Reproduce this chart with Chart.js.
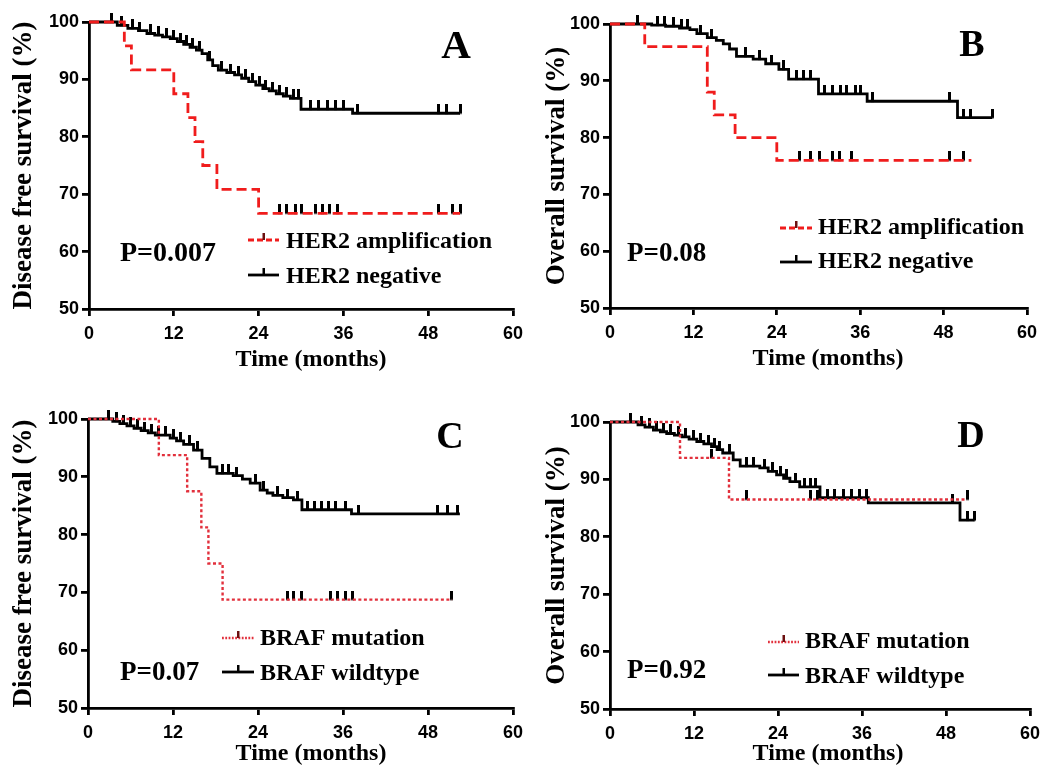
<!DOCTYPE html>
<html>
<head>
<meta charset="utf-8">
<script src="https://cdn.jsdelivr.net/npm/chart.js@4.4.0/dist/chart.umd.min.js"></script>
<style>
  body { margin: 0; background: #fff; }
  canvas { position: absolute; }
</style>
</head>
<body>
<canvas id="chartA" width="532" height="380" style="left:0;top:0"></canvas>
<canvas id="chartB" width="532" height="380" style="left:532px;top:0"></canvas>
<canvas id="chartC" width="532" height="387" style="left:0;top:380px"></canvas>
<canvas id="chartD" width="532" height="387" style="left:532px;top:380px"></canvas>
<script>
// axis ticks
const timeTicks = [0, 12, 24, 36, 48, 60];
const survTicks = [50, 60, 70, 80, 90, 100];

const her2Labels = ['HER2 amplification', 'HER2 negative'];
const brafLabels = ['BRAF mutation', 'BRAF wildtype'];
const pValues = ['P=0.007', 'P=0.08', 'P=0.07', 'P=0.92'];

// A - disease free survival by HER2
const dfsHer2AmpTime = [5, 6, 12, 14, 15, 16.1, 18.1, 24];
const dfsHer2AmpSurv = [95.83, 91.67, 87.5, 83.33, 79.17, 75, 70.83, 66.67];
const dfsHer2AmpCens = [27, 28, 29.2, 30.1, 32, 33, 34, 35.2, 49.5, 51.5, 52.5];
const dfsHer2AmpEnd = 52.5;
const dfsHer2NegTime = [4, 5.5, 7, 8.2, 9.3, 10.4, 11.5, 12.5, 13.4, 14.3, 15.2, 16, 16.8, 17.5, 18.3, 19.5, 20.6, 21.6, 22.6, 23.6, 24.6, 25.5, 26.5, 27.5, 28.5, 30, 37.3];
const dfsHer2NegSurv = [99.4, 98.9, 98.5, 98.0, 97.7, 97.4, 97.1, 96.6, 96.1, 95.6, 95.1, 94.5, 93.4, 92.4, 91.6, 91.2, 90.8, 90.2, 89.6, 89.0, 88.4, 88.0, 87.5, 87.1, 86.7, 84.8, 84.1];
const dfsHer2NegCens = [3.2, 4.6, 6.2, 7.2, 8.7, 9.8, 10.9, 12, 12.9, 13.8, 14.7, 15.6, 17.1, 18.8, 20, 21.1, 22.1, 23.1, 24.1, 25, 26, 27, 28, 29, 29.6, 31.3, 32.5, 33.7, 34.9, 36, 38, 49.4, 50.6, 52.5];
const dfsHer2NegEnd = 52.5;

// B - overall survival by HER2
const osHer2AmpTime = [5, 14, 15, 18, 24];
const osHer2AmpSurv = [96, 88, 84, 80, 76];
const osHer2AmpCens = [27.3, 28.8, 30.2, 32, 33, 34.8, 48.9, 50.8];
const osHer2AmpEnd = 52;
const osHer2NegTime = [6, 8, 10, 11.5, 12.5, 14, 15.3, 16.3, 17.2, 18.2, 20.6, 22.4, 24.3, 25.7, 30, 37, 50];
const osHer2NegSurv = [99.8, 99.6, 99.3, 99.0, 98.3, 97.6, 97.1, 96.5, 95.6, 94.3, 93.8, 93.0, 92.0, 90.3, 87.7, 86.4, 83.5];
const osHer2NegCens = [3.9, 6.8, 7.9, 9.1, 10.3, 11.2, 13, 14.6, 19.5, 21.5, 23.3, 25, 26.8, 27.8, 28.8, 30.9, 32, 33.1, 34.1, 35.3, 36, 37.8, 48.9, 50.8, 51.8, 55];
const osHer2NegEnd = 55;

// C - disease free survival by BRAF
const dfsBrafMutTime = [10, 14, 16, 17, 19];
const dfsBrafMutSurv = [93.75, 87.5, 81.25, 75, 68.75];
const dfsBrafMutCens = [28.1, 29, 30.2, 34.2, 35.2, 36.3, 37.3, 51.3];
const dfsBrafMutEnd = 51.4;
const dfsBrafWtTime = [3.5, 4.5, 5.5, 6.5, 7.5, 8.5, 9.5, 11.6, 12.5, 13.5, 14.9, 16.1, 17.2, 18.2, 20.5, 21.8, 22.9, 24.3, 25.3, 26.1, 27.5, 29, 30.2, 37.2];
const dfsBrafWtSurv = [99.6, 99.2, 98.8, 98.4, 98.0, 97.6, 97.2, 96.7, 96.2, 95.6, 94.6, 93.2, 91.7, 90.6, 90.2, 89.6, 88.9, 87.7, 87.2, 86.8, 86.4, 86.0, 84.3, 83.6];
const dfsBrafWtCens = [2.9, 4, 5, 6, 7, 8, 9, 10, 11, 12, 13, 14.3, 15.5, 19, 19.8, 21, 23.6, 24.8, 26.8, 28.2, 29.6, 31, 32, 33, 34, 35, 36.3, 38.2, 49.4, 50.8, 52.1];
const dfsBrafWtEnd = 52.5;

// D - overall survival by BRAF
const osBrafMutTime = [10, 17];
const osBrafMutSurv = [93.75, 86.5];
const osBrafMutCens = [14.5, 19.5, 28.6, 29.7, 51];
const osBrafMutEnd = 51;
const osBrafWtTime = [4, 5, 6.2, 7.2, 8.1, 9.2, 10.3, 11.3, 12.4, 13.4, 14.5, 15.3, 16.1, 17.6, 18.6, 21.4, 22.6, 23.8, 24.8, 25.7, 27.1, 30, 36.9, 50];
const osBrafWtSurv = [99.5, 99.1, 98.6, 98.3, 98.0, 97.7, 97.4, 97.0, 96.6, 96.2, 95.7, 95.2, 94.6, 93.4, 92.3, 92.0, 91.4, 90.8, 90.2, 89.6, 88.7, 86.8, 85.9, 82.9];
const osBrafWtCens = [2.9, 4.5, 5.6, 6.7, 7.7, 8.6, 9.8, 10.8, 11.9, 12.9, 14, 14.9, 15.7, 17, 19.5, 20.5, 22, 23.2, 24.3, 25.2, 26.5, 27.8, 28.6, 29.3, 31, 32, 33.3, 34.5, 35.6, 36.7, 48.9, 51, 52.1];
const osBrafWtEnd = 52.1;

const SERIF = '"Liberation Serif", "Times New Roman", serif';
const SANS = '"Liberation Sans", Arial, sans-serif';

function stepData(times, surv, end) {
    const pts = [{x: 0, y: 100}];
    times.forEach((t, i) => pts.push({x: t, y: surv[i]}));
    pts.push({x: end, y: surv[surv.length - 1]});
    return pts;
}

// censor marks sit on the curve at the given time
function censData(cens, times, surv) {
    return cens.map(t => {
        let s = 100;
        times.forEach((tt, i) => { if (tt <= t) s = surv[i]; });
        return {x: t, y: s};
    });
}

function makeTick(color) {
    const c = document.createElement('canvas');
    c.width = 3; c.height = 18;
    const g = c.getContext('2d');
    g.fillStyle = color;
    g.fillRect(0, 0, 3, 9.5);
    return c;
}
const tickMark = makeTick('#000');

const panels = [
    {id: 'chartA', left: 0, top: 0, yw: 89, xh: 71, pr: 19, pt: 22, yTitle: 'Disease free survival (%)', yPad: 8,
     letter: 'A', letterSize: 41, letterX: 456, letterY: 58, pText: pValues[0], pSize: 28, pX: 120, pY: 261,
     xTitleX: 311, xTitleY: 366, labels: her2Labels,
     lg: {sx0: 248, sx1: 279, sy: [240, 275], tx: 286, ty: [248, 283]},
     red: {c: '#f01c1c', w: 2.8, dash: [10, 5]},
     s1: [dfsHer2AmpTime, dfsHer2AmpSurv, dfsHer2AmpCens, dfsHer2AmpEnd],
     s2: [dfsHer2NegTime, dfsHer2NegSurv, dfsHer2NegCens, dfsHer2NegEnd]},
    {id: 'chartB', left: 532, top: 0, yw: 78, xh: 72, pr: 37, pt: 24, yTitle: 'Overall survival (%)', yPad: 9,
     letter: 'B', letterSize: 38, letterX: 972, letterY: 56, pText: pValues[1], pSize: 27, pX: 627, pY: 261,
     xTitleX: 828, xTitleY: 365, labels: her2Labels,
     lg: {sx0: 780, sx1: 812, sy: [228, 262], tx: 818, ty: [234, 268]},
     red: {c: '#f01c1c', w: 2.8, dash: [10, 5]},
     s1: [osHer2AmpTime, osHer2AmpSurv, osHer2AmpCens, osHer2AmpEnd],
     s2: [osHer2NegTime, osHer2NegSurv, osHer2NegCens, osHer2NegEnd]},
    {id: 'chartC', left: 0, top: 380, yw: 88, xh: 59, pr: 19, pt: 39, yTitle: 'Disease free survival (%)', yPad: 8,
     letter: 'C', letterSize: 38, letterX: 450, letterY: 448, pText: pValues[2], pSize: 27, pX: 120, pY: 680,
     xTitleX: 311, xTitleY: 760, labels: brafLabels,
     lg: {sx0: 222, sx1: 254, sy: [638, 672], tx: 260, ty: [645, 680]},
     red: {c: '#e2303c', w: 2.4, dash: [3, 2.5]},
     s1: [dfsBrafMutTime, dfsBrafMutSurv, dfsBrafMutCens, dfsBrafMutEnd],
     s2: [dfsBrafWtTime, dfsBrafWtSurv, dfsBrafWtCens, dfsBrafWtEnd]},
    {id: 'chartD', left: 532, top: 380, yw: 78, xh: 58, pr: 34, pt: 42, yTitle: 'Overall survival (%)', yPad: 9,
     letter: 'D', letterSize: 38, letterX: 971, letterY: 447, pText: pValues[3], pSize: 27, pX: 627, pY: 678,
     xTitleX: 828, xTitleY: 760, labels: brafLabels,
     lg: {sx0: 768, sx1: 799, sy: [642, 675], tx: 805, ty: [648, 683]},
     red: {c: '#e2303c', w: 2.4, dash: [3, 2.5]},
     s1: [osBrafMutTime, osBrafMutSurv, osBrafMutCens, osBrafMutEnd],
     s2: [osBrafWtTime, osBrafWtSurv, osBrafWtCens, osBrafWtEnd]}
];

const panelText = {
    id: 'panelText',
    afterDraw(chart, args, opts) {
        const p = opts.panel;
        const ctx = chart.ctx;
        const ox = p.left, oy = p.top;
        ctx.save();
        ctx.fillStyle = '#000';
        ctx.textBaseline = 'alphabetic';

        ctx.textAlign = 'center';
        ctx.font = 'bold ' + p.letterSize + 'px ' + SERIF;
        ctx.fillText(p.letter, p.letterX - ox, p.letterY - oy);
        ctx.font = 'bold 24px ' + SERIF;
        ctx.fillText('Time (months)', p.xTitleX - ox, p.xTitleY - oy);

        ctx.textAlign = 'left';
        ctx.font = 'bold ' + p.pSize + 'px ' + SERIF;
        ctx.fillText(p.pText, p.pX - ox, p.pY - oy);

        // legend
        const styles = [p.red, {c: '#000', w: 2.8, dash: []}];
        styles.forEach((st, i) => {
            const y = p.lg.sy[i] - oy;
            ctx.strokeStyle = st.c;
            ctx.lineWidth = st.w;
            ctx.setLineDash(st.dash.length ? [st.dash[0] * 0.6, st.dash[1] * 0.6] : []);
            ctx.beginPath();
            ctx.moveTo(p.lg.sx0 - ox, y);
            ctx.lineTo(p.lg.sx1 - ox, y);
            ctx.stroke();
            ctx.setLineDash([]);
            ctx.fillStyle = i === 0 ? '#6b1010' : '#000';
            ctx.fillRect((p.lg.sx0 + p.lg.sx1) / 2 - ox - 1, y - 7, 2.5, 7);
            ctx.fillStyle = '#000';
            ctx.font = 'bold 24px ' + SERIF;
            ctx.fillText(p.labels[i], p.lg.tx - ox, p.lg.ty[i] - oy);
        });
        ctx.restore();
    }
};

function axisStyle() {
    return {
        grid: {drawOnChartArea: false, drawTicks: true, tickLength: 7, color: '#000', lineWidth: 2.8},
        border: {display: true, color: '#000', width: 2.8}
    };
}

panels.forEach(p => {
    const [t1, s1, c1, e1] = p.s1;
    const [t2, s2, c2, e2] = p.s2;
    new Chart(document.getElementById(p.id), {
        type: 'scatter',
        data: {
            datasets: [
                {label: p.labels[0], data: stepData(t1, s1, e1), showLine: true, stepped: true,
                 borderColor: p.red.c, borderWidth: p.red.w, borderDash: p.red.dash, pointRadius: 0, clip: false},
                {label: p.labels[0] + ' censored', data: censData(c1, t1, s1), showLine: false,
                 pointStyle: tickMark, pointRadius: 4, clip: false},
                {label: p.labels[1], data: stepData(t2, s2, e2), showLine: true, stepped: true,
                 borderColor: '#000', borderWidth: 2.8, pointRadius: 0, clip: false},
                {label: p.labels[1] + ' censored', data: censData(c2, t2, s2), showLine: false,
                 pointStyle: tickMark, pointRadius: 4, clip: false}
            ]
        },
        options: {
            responsive: false,
            animation: false,
            layout: {padding: {left: 0, top: p.pt, right: p.pr, bottom: 0}},
            plugins: {
                legend: {display: false},
                tooltip: {enabled: false},
                panelText: {panel: p}
            },
            scales: {
                x: Object.assign(axisStyle(), {
                    type: 'linear', min: 0, max: 60,
                    afterBuildTicks: s => { s.ticks = timeTicks.map(v => ({value: v})); },
                    afterFit: s => { s.height = p.xh; },
                    ticks: {color: '#000', padding: 7, font: {family: SANS, size: 18, weight: 'bold'}}
                }),
                y: Object.assign(axisStyle(), {
                    type: 'linear', min: 50, max: 100,
                    afterBuildTicks: s => { s.ticks = survTicks.map(v => ({value: v})); },
                    afterFit: s => { s.width = p.yw; },
                    ticks: {color: '#000', padding: 3, font: {family: SANS, size: 18, weight: 'bold'}},
                    title: {display: true, text: p.yTitle, color: '#000', padding: {top: p.yPad, bottom: 0},
                            font: {family: SERIF, size: 27, weight: 'bold'}}
                })
            }
        },
        plugins: [panelText]
    });
});
</script>
</body>
</html>
